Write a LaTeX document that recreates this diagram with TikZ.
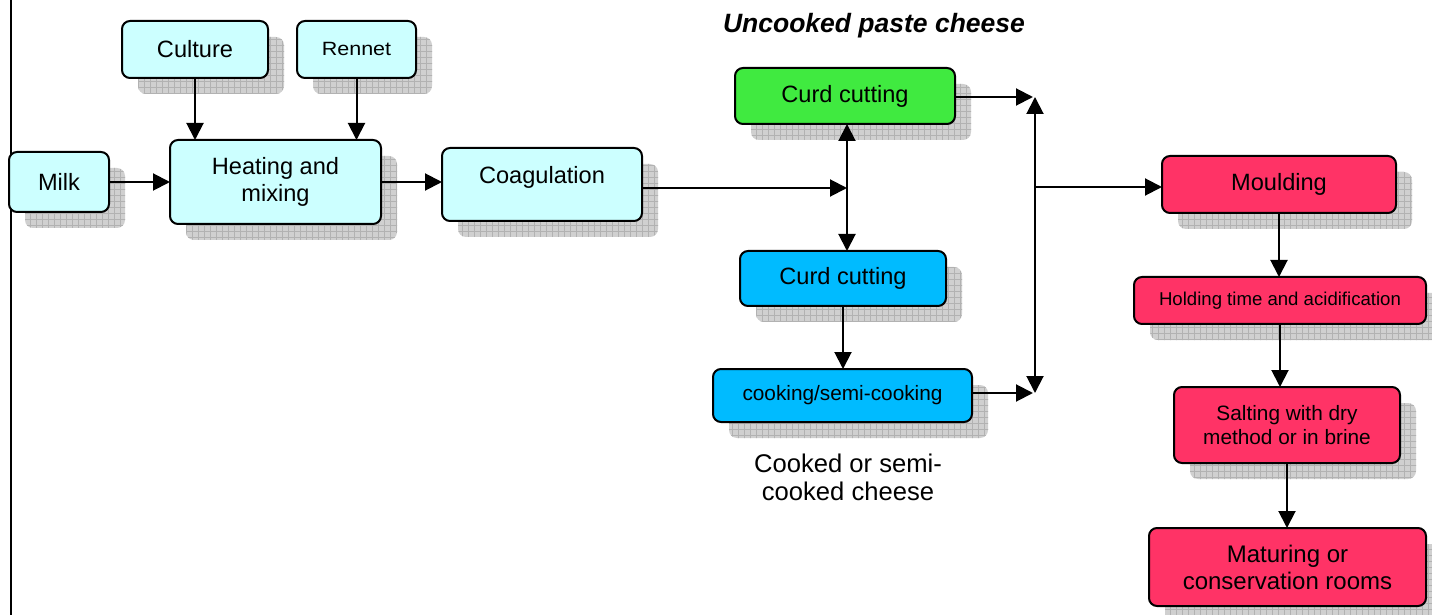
\documentclass[tikz,border=0pt]{standalone}
\usepackage{fontspec}
\usepackage{graphicx}
\setmainfont{Liberation Sans}
\usetikzlibrary{arrows.meta,patterns,calc}
\definecolor{cyanbox}{RGB}{204,255,255}
\definecolor{greenbox}{RGB}{64,234,64}
\definecolor{bluebox}{RGB}{0,187,255}
\definecolor{pinkbox}{RGB}{255,51,102}
\definecolor{shadowfill}{RGB}{208,208,208}
\definecolor{shadowgrid}{RGB}{178,178,178}
\newcommand\mainfs{\fontsize{11.8}{13.5}\selectfont}
\newcommand\pbox[7]{%
  \pgfmathsetmacro\pbw{(#4-#2)*0.5}%
  \pgfmathsetmacro\pbh{(#5-#3)*0.5}%
  \fill[shadowfill,rounded corners=4pt] (#2+16,#3+16) rectangle (#4+16,#5+16);
  \fill[pattern=grid,pattern color=shadowgrid,rounded corners=4pt] (#2+16,#3+16) rectangle (#4+16,#5+16);
  \node[#6,minimum width=\pbw pt,minimum height=\pbh pt] (#1) at ({(#2+#4)/2},{(#3+#5)/2}) {#7};
}
\tikzset{
  box/.style={draw=black, line width=1pt, rounded corners=4pt, inner sep=0pt, outer sep=0pt, align=center, font=\mainfs},
  cyanb/.style={box, fill=cyanbox},
  greenb/.style={box, fill=greenbox},
  blueb/.style={box, fill=bluebox},
  pinkb/.style={box, fill=pinkbox},
  arr/.style={line width=1pt, -{Triangle[length=8.5pt,width=8.5pt]}},
}
\begin{document}
\begin{tikzpicture}[x=0.5pt,y=-0.5pt]
\useasboundingbox (0,0) rectangle (1432,615);
\fill[white] (0,0) rectangle (1432,615);
\draw[line width=1pt] (11,0) -- (11,615);

\pbox{milk}{9}{152}{109}{212}{cyanb}{Milk}
\pbox{culture}{122}{21}{268}{78}{cyanb}{Culture}
\pbox{rennet}{297}{21}{416}{78}{cyanb}{\raisebox{1pt}{\scalebox{1.12}[1]{\fontsize{9.6}{11}\selectfont Rennet}}}
\pbox{heat}{170}{140}{381}{224}{cyanb}{Heating and\\mixing}
\pbox{coag}{442}{148}{642}{221}{cyanb}{\raisebox{0.5pt}[0pt][0pt]{Coagulation}}
\pbox{green}{735}{68}{955}{124}{greenb}{Curd cutting}
\pbox{bcut}{740}{251}{946}{306}{blueb}{Curd cutting}
\pbox{cook}{713}{369}{972}{422}{blueb,font=\fontsize{10.4}{12}\selectfont}{cooking/semi-cooking}
\pbox{mould}{1162}{156}{1396}{213}{pinkb}{Moulding}
\pbox{hold}{1134}{277}{1426}{324}{pinkb,font=\fontsize{9.3}{11}\selectfont}{Holding time and acidification}
\pbox{salt}{1174}{387}{1400}{463}{pinkb,font=\fontsize{10.4}{12}\selectfont}{Salting with dry\\method or in brine}
\pbox{mat}{1149}{528}{1426}{606}{pinkb,font=\fontsize{12}{13.5}\selectfont}{Maturing or\\conservation rooms}

\node[font=\bfseries\itshape\fontsize{13.25}{15}\selectfont, anchor=base, inner sep=0pt] (title) at (874,33) {Uncooked paste cheese};
\node[align=center, font=\fontsize{12.8}{14}\selectfont, inner sep=0pt] (cooked) at (848,477) {Cooked or semi-\\cooked cheese};

\coordinate (j1) at (847,188);
\coordinate (j2t) at (1035,97);
\coordinate (jm) at (1035,187);
\coordinate (j2b) at (1035,393);

\draw[arr] (milk.east) -- (heat.west);
\draw[arr] (culture.south) -- (culture.south |- heat.north);
\draw[arr] (rennet.south) -- (rennet.south |- heat.north);
\draw[arr] (heat.east) -- (heat.east -| coag.west);
\draw[arr] (coag.east |- j1) -- (j1);
\draw[arr] (j1) -- (j1 |- green.south);
\draw[arr] (j1) -- (j1 |- bcut.north);
\draw[arr] (bcut.south) -- (bcut.south |- cook.north);
\draw[arr] (green.east |- j2t) -- ($(j2t)+(-2,0)$);
\draw[arr] (cook.east |- j2b) -- ($(j2b)+(-2,0)$);
\draw[arr] (jm) -- (j2t);
\draw[arr] (jm) -- (j2b);
\draw[arr] (jm) -- (jm -| mould.west);
\draw[arr] (mould.south) -- (mould.south |- hold.north);
\draw[arr] (hold.south) -- (hold.south |- salt.north);
\draw[arr] (salt.south) -- (salt.south |- mat.north);
\end{tikzpicture}
\end{document}
